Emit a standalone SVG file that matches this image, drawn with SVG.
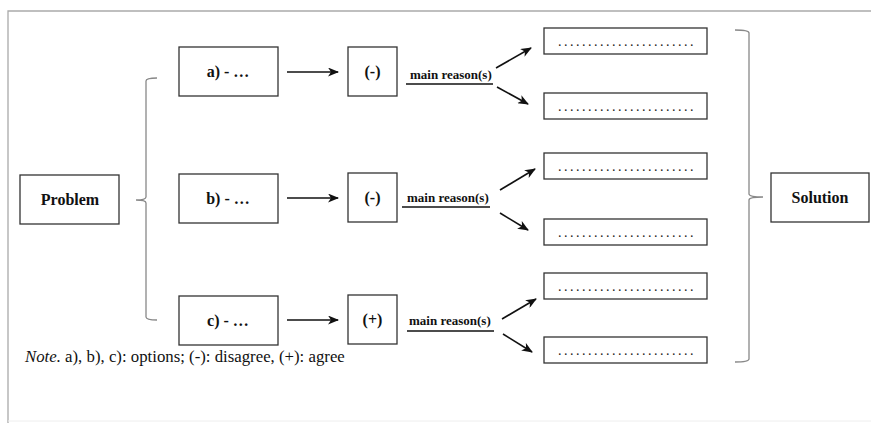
<svg xmlns="http://www.w3.org/2000/svg" width="871" height="423" viewBox="0 0 871 423">
<defs>
<marker id="ah" markerWidth="11" markerHeight="9" refX="10" refY="4.5" orient="auto" markerUnits="userSpaceOnUse">
<path d="M0,0 L11,4.5 L0,9 L3,4.5 Z" fill="#111"/>
</marker>
<style>
.box{fill:#fff;stroke:#333;stroke-width:1.3}
.lbl{font-family:"Liberation Serif","Times New Roman",serif;font-weight:bold;font-size:16px;fill:#111;text-anchor:middle}
.mr{font-family:"Liberation Serif","Times New Roman",serif;font-weight:bold;font-size:13px;fill:#111}
.dots{font-family:"Liberation Serif","Times New Roman",serif;font-size:14px;fill:#222;letter-spacing:2.5px}
.arr{stroke:#111;stroke-width:1.6;fill:none;marker-end:url(#ah)}
.ul{stroke:#111;stroke-width:1.3}
.br{stroke:#888;stroke-width:1.3;fill:none}
.frame{stroke:#aaa;stroke-width:1.3;fill:none}
</style>
</defs>
<rect width="871" height="423" fill="#fff"/>
<path class="frame" d="M871,11 L8,11 L8,423"/>
<line x1="8" y1="421" x2="871" y2="421" stroke="#eee" stroke-width="1"/>

<g id="problem"><rect class="box" x="20" y="175" width="99" height="49"/><text class="lbl" x="70" y="205">Problem</text></g>
<g id="opt-a"><rect class="box" x="179" y="47" width="99" height="49"/><text class="lbl" x="228" y="77">a) - …</text></g>
<g id="opt-b"><rect class="box" x="179" y="174" width="99" height="49"/><text class="lbl" x="228" y="204">b) - …</text></g>
<g id="opt-c"><rect class="box" x="179" y="296" width="99" height="49"/><text class="lbl" x="228" y="326">c) - …</text></g>
<g id="eval-a"><rect class="box" x="348" y="47" width="49" height="49"/><text class="lbl" x="372.5" y="77">(-)</text></g>
<g id="eval-b"><rect class="box" x="348" y="173" width="49" height="49"/><text class="lbl" x="372.5" y="203">(-)</text></g>
<g id="eval-c"><rect class="box" x="348" y="295" width="49" height="49"/><text class="lbl" x="372.5" y="325">(+)</text></g>

<g id="reason-a1"><rect class="box" x="544" y="28" width="163" height="26"/><text class="dots" x="558" y="46">.......................</text></g>
<g id="reason-a2"><rect class="box" x="544" y="93" width="163" height="26"/><text class="dots" x="558" y="111">.......................</text></g>
<g id="reason-b1"><rect class="box" x="544" y="153" width="163" height="26"/><text class="dots" x="558" y="171">.......................</text></g>
<g id="reason-b2"><rect class="box" x="544" y="219" width="163" height="26"/><text class="dots" x="558" y="237">.......................</text></g>
<g id="reason-c1"><rect class="box" x="544" y="273" width="163" height="26"/><text class="dots" x="558" y="291">.......................</text></g>
<g id="reason-c2"><rect class="box" x="544" y="337" width="163" height="26"/><text class="dots" x="558" y="355">.......................</text></g>

<g id="solution"><rect class="box" x="771" y="173" width="98" height="49"/><text class="lbl" x="820" y="203">Solution</text></g>

<g id="connectors">
<path class="br" d="M157,78 Q146,78 146,81 L146,197 Q146,200 136,200 Q146,200 146,203 L146,317 Q146,320 157,320"/>
<path class="br" d="M735,30 Q749,30 749,33 L749,194 Q749,197 763,197 Q749,197 749,200 L749,359 Q749,362 735,362"/>
<line class="arr" x1="287" y1="72" x2="338" y2="72"/>
<line class="arr" x1="287" y1="198" x2="338" y2="198"/>
<line class="arr" x1="287" y1="320" x2="338" y2="320"/>
<text class="mr" x="410" y="79">main reason(s)</text>
<line class="ul" x1="406" y1="84" x2="493" y2="84"/>
<text class="mr" x="407" y="202">main reason(s)</text>
<line class="ul" x1="402" y1="207" x2="490" y2="207"/>
<text class="mr" x="409" y="325">main reason(s)</text>
<line class="ul" x1="407" y1="331" x2="494" y2="331"/>
<line class="arr" x1="496" y1="68" x2="531" y2="48"/>
<line class="arr" x1="497" y1="87" x2="528" y2="104"/>
<line class="arr" x1="500" y1="190" x2="535" y2="169"/>
<line class="arr" x1="500" y1="213" x2="528" y2="230"/>
<line class="arr" x1="502" y1="319" x2="536" y2="299"/>
<line class="arr" x1="503" y1="334" x2="532" y2="352"/>
</g>

<text x="25" y="362" font-family="'Liberation Serif','Times New Roman',serif" font-size="16.8" fill="#111"><tspan font-style="italic">Note.</tspan> a), b), c): options; (-): disagree, (+): agree</text>
</svg>
